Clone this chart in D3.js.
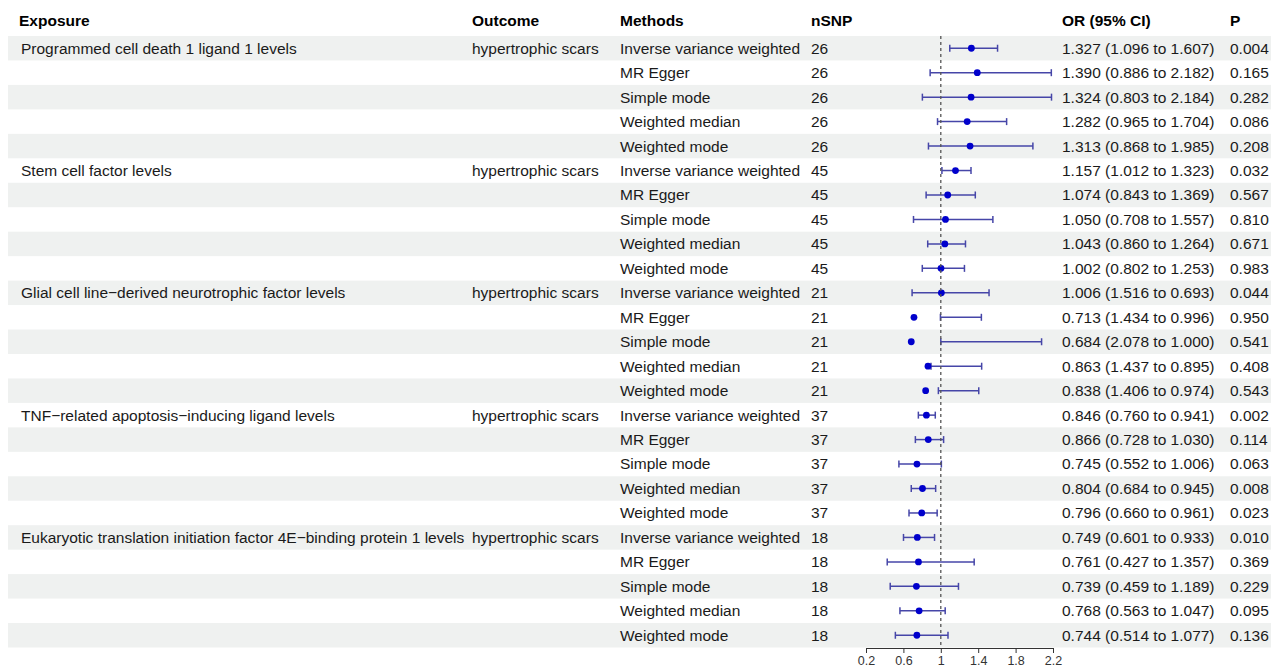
<!DOCTYPE html>
<html>
<head>
<meta charset="utf-8">
<script src="https://cdn.jsdelivr.net/npm/d3@7"></script>
<style>
  body { margin: 0; background: #fff; }
  svg { font-family: "Liberation Sans", Arial, Helvetica, sans-serif; }
  .hdr { font-weight: bold; font-size: 15.5px; fill: #000; }
  .cell { font-size: 15.5px; fill: #1a1a1a; }
  .axis text { font-size: 12.5px; fill: #333; }
  .axis path, .axis line { stroke: #333; }
</style>
</head>
<body>
<div id="chart"></div>
<script>
var exposures = [
  "Programmed cell death 1 ligand 1 levels",
  "Stem cell factor levels",
  "Glial cell line\u2212derived neurotrophic factor levels",
  "TNF\u2212related apoptosis\u2212inducing ligand levels",
  "Eukaryotic translation initiation factor 4E\u2212binding protein 1 levels"
]
var outcome = "hypertrophic scars"
var methods = ["Inverse variance weighted", "MR Egger", "Simple mode", "Weighted median", "Weighted mode"]
var nsnp = [26, 45, 21, 37, 18]

// OR, and the two CI bounds as printed
var orVals = [1.327, 1.390, 1.324, 1.282, 1.313,
              1.157, 1.074, 1.050, 1.043, 1.002,
              1.006, 0.713, 0.684, 0.863, 0.838,
              0.846, 0.866, 0.745, 0.804, 0.796,
              0.749, 0.761, 0.739, 0.768, 0.744]
var ciA = [1.096, 0.886, 0.803, 0.965, 0.868,
           1.012, 0.843, 0.708, 0.860, 0.802,
           1.516, 1.434, 2.078, 1.437, 1.406,
           0.760, 0.728, 0.552, 0.684, 0.660,
           0.601, 0.427, 0.459, 0.563, 0.514]
var ciB = [1.607, 2.182, 2.184, 1.704, 1.985,
           1.323, 1.369, 1.557, 1.264, 1.253,
           0.693, 0.996, 1.000, 0.895, 0.974,
           0.941, 1.030, 1.006, 0.945, 0.961,
           0.933, 1.357, 1.189, 1.047, 1.077]
var pVals = ["0.004", "0.165", "0.282", "0.086", "0.208",
             "0.032", "0.567", "0.810", "0.671", "0.983",
             "0.044", "0.950", "0.541", "0.408", "0.543",
             "0.002", "0.114", "0.063", "0.008", "0.023",
             "0.010", "0.369", "0.229", "0.095", "0.136"]
var xTicks = [0.2, 0.6, 1, 1.4, 1.8, 2.2]

var W = 1271, H = 669
var rowTop = 36, rowH = 24.46
var cols = { exp: 21, out: 472, met: 620, n: 811, or: 1062, p: 1230 }

var rows = []
exposures.forEach((e, i) => {
  methods.forEach((m, j) => {
    var k = i * 5 + j
    rows.push({
      exposure: j == 0 ? e : "",
      outcome: j == 0 ? outcome : "",
      method: m,
      n: nsnp[i],
      or: orVals[k],
      lo: Math.min(ciA[k], ciB[k]),
      hi: Math.max(ciA[k], ciB[k]),
      label: orVals[k].toFixed(3) + " (" + ciA[k].toFixed(3) + " to " + ciB[k].toFixed(3) + ")",
      p: pVals[k]
    })
  })
})

var svg = d3.select("#chart").append("svg")
  .attr("width", W).attr("height", H)

var y = d3.scaleBand()
  .domain(d3.range(rows.length))
  .range([rowTop, rowTop + rowH * rows.length])

var x = d3.scaleLinear()
  .domain([0.2, 2.2])
  .range([866, 1053])

// striped backgrounds
svg.append("g").selectAll("rect")
  .data(rows.filter((d, i) => i % 2 == 0))
  .enter().append("rect")
    .attr("x", 8)
    .attr("y", (d) => y(rows.indexOf(d)))
    .attr("width", W - 8)
    .attr("height", y.bandwidth())
    .attr("fill", "#eff1f0")

// header
var hdr = [["Exposure", cols.exp], ["Outcome", cols.out], ["Methods", cols.met],
           ["nSNP", cols.n], ["OR (95% CI)", cols.or], ["P", cols.p]]
svg.append("g").selectAll("text")
  .data(hdr)
  .enter().append("text")
    .attr("class", "hdr")
    .attr("x", d => d[0] == "Exposure" ? 19 : d[1])
    .attr("y", 21)
    .attr("dy", "0.35em")
    .text(d => d[0])

// table cells
var rg = svg.append("g").selectAll("g")
  .data(rows)
  .enter().append("g")
    .attr("transform", (d, i) => "translate(0," + (y(i) + y.bandwidth() / 2) + ")")

var fields = [["exposure", cols.exp], ["outcome", cols.out], ["method", cols.met],
              ["n", cols.n], ["label", cols.or], ["p", cols.p]]
fields.forEach(f => {
  rg.append("text")
    .attr("class", "cell")
    .attr("x", f[1])
    .attr("dy", "0.35em")
    .text(d => d[f[0]])
})

// reference line at OR = 1
svg.append("line")
  .attr("x1", x(1)).attr("x2", x(1))
  .attr("y1", rowTop).attr("y2", 648)
  .attr("stroke", "#555")
  .attr("stroke-width", 1.3)
  .attr("stroke-dasharray", "3,3")

// CI lines, caps and points
var ciColor = "#4646a8"
rg.append("line")
  .attr("x1", d => x(d.lo)).attr("x2", d => x(d.hi))
  .attr("stroke", ciColor).attr("stroke-width", 1.5)
rg.append("line")
  .attr("x1", d => x(d.lo)).attr("x2", d => x(d.lo))
  .attr("y1", -3.5).attr("y2", 3.5)
  .attr("stroke", ciColor).attr("stroke-width", 1.5)
rg.append("line")
  .attr("x1", d => x(d.hi)).attr("x2", d => x(d.hi))
  .attr("y1", -3.5).attr("y2", 3.5)
  .attr("stroke", ciColor).attr("stroke-width", 1.5)
rg.append("circle")
  .attr("cx", d => x(d.or))
  .attr("r", 3.4)
  .attr("fill", "#0000cc")

// x axis
svg.append("g")
  .attr("class", "axis")
  .attr("transform", "translate(0,648)")
  .call(d3.axisBottom(x).tickValues(xTicks).tickFormat(d3.format("")).tickSize(5))
</script>
</body>
</html>
